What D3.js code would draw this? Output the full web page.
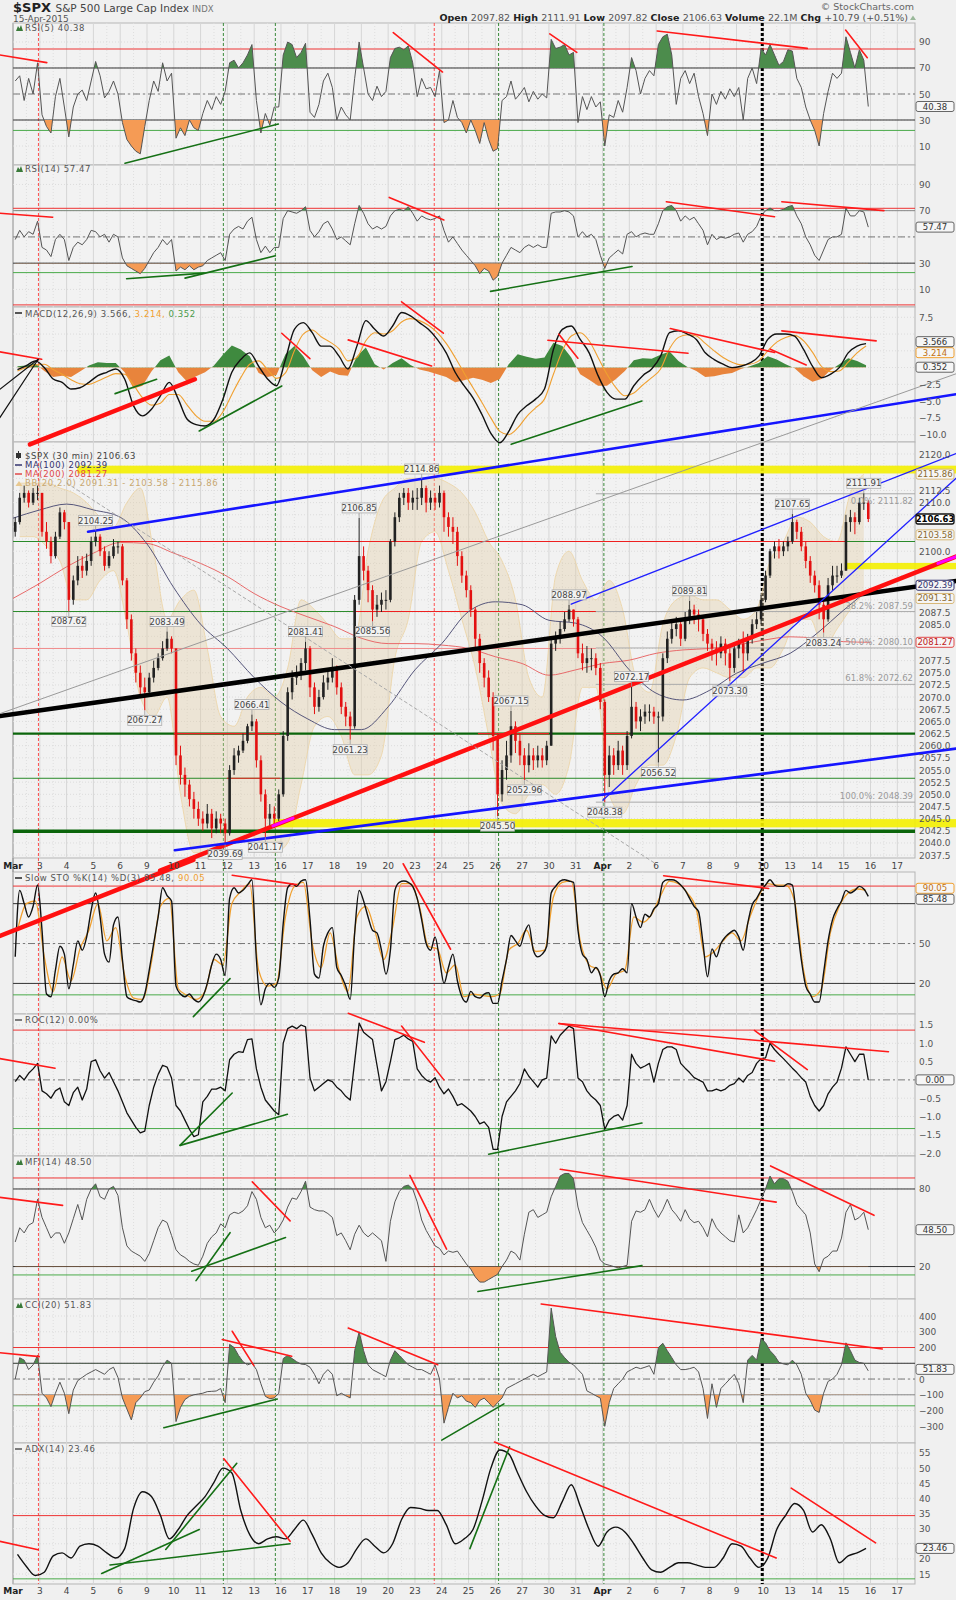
<!DOCTYPE html>
<html><head><meta charset="utf-8">
<script src="https://cdn.jsdelivr.net/npm/d3@7"></script>
<style>body{margin:0;background:#f0f0f0;}svg{display:block;font-family:"DejaVu Sans",Verdana,sans-serif;}</style>
</head><body><svg id="c" width="956" height="1600"></svg>
<script>
// ---------------- DATA ----------------
const dayLabels = ["Mar","3","4","5","6","9","10","11","12","13","16","17","18","19","20","23","24","25","26","27","30","31","Apr","2","6","7","8","9","10","13","14","15","16","17"];
const priceOpen0 = 2104;
const priceC = [
2106,2111,2112,2110,2112,2112, 2104,2102,2099,2103,2108,2106, 2090,2094,2097,2096,2098,2102, 2103,2100,2097,2099,2101,2101,
2094,2086,2079,2075,2072,2071, 2074,2076,2078,2080,2082,2080, 2058,2054,2052,2049,2047,2045, 2044,2046,2043,2045,2044,2042,
2055,2058,2059,2061,2064,2065, 2057,2050,2045,2046,2045,2050, 2062,2071,2074,2075,2077,2080, 2072,2068,2070,2073,2074,2076,
2072,2068,2066,2064,2090,2099, 2096,2092,2088,2089,2090,2090, 2102,2107,2111,2112,2110,2111, 2111,2113,2110,2111,2110,2112,
2107,2105,2104,2099,2095,2092, 2088,2082,2077,2074,2070,2062, 2050,2055,2058,2064,2061,2058, 2056,2058,2057,2058,2057,2060,
2081,2082,2084,2086,2088,2086, 2079,2077,2078,2078,2076,2069, 2054,2058,2056,2059,2056,2062, 2068,2065,2066,2067,2067,2066,
2066,2078,2082,2084,2085,2082, 2086,2088,2087,2086,2083,2081, 2080,2079,2081,2079,2076,2080, 2081,2079,2082,2085,2086,2090,
2095,2100,2101,2100,2101,2102, 2106,2104,2101,2098,2095,2093, 2089,2086,2093,2095,2095,2096, 2106,2107,2106,2110,2110,2106.63];
const priceH = [
2107,2112,2113.5,2112.5,2113,2113.5, 2112,2106,2103,2104,2109,2108.5, 2106,2095,2099,2099,2099.5,2103, 2104.25,2103.5,2101,2100,2102.5,2102,
2101.5,2094.5,2087,2080,2076.5,2074, 2075,2077.5,2079,2081.5,2083.49,2082.5, 2080,2060,2055.5,2053,2050.5,2048.5, 2046.5,2048,2047,2046.5,2046,2045,
2056,2059.5,2060,2062.5,2064.5,2066.41, 2065.5,2058,2051,2048,2047.5,2051, 2063,2072,2075.5,2076.5,2078,2081.41, 2080.5,2073,2071.5,2074.5,2075.5,2078,
2076.5,2073,2069,2067,2091,2106.85, 2101,2097,2093,2091,2091.5,2092, 2102.5,2108,2112,2113,2113,2112.5, 2113,2114.86,2113.5,2112.5,2112,2113.5,
2112.5,2108,2107,2105,2100,2096, 2093,2088.5,2083,2078,2075.5,2071, 2062.5,2057,2061,2067.15,2065,2062.5, 2059.5,2060.5,2059.5,2060,2059.5,2061,
2082,2083.5,2085.5,2087.5,2088.97,2088, 2086.5,2081,2080.5,2080,2079,2077, 2069.5,2060,2059.5,2061,2060,2063, 2072.17,2069,2067.5,2068.5,2068.5,2068,
2067,2079,2083.5,2085.5,2086.5,2085.5, 2087.5,2089.81,2089,2088,2086.5,2084, 2082,2081.5,2082.5,2082,2080,2081, 2082,2083.5,2083,2086,2087.5,2091,
2096,2100.5,2102,2102.5,2102,2103, 2107.65,2106.5,2105,2102,2099,2096, 2094,2090,2094.5,2097,2097,2097.5, 2107.5,2108.5,2108,2111,2111.91,2110.5];
const priceL = [
2103,2105.5,2110,2109,2109.5,2110.5, 2103,2100.5,2097.5,2098.5,2102.5,2104.5, 2087.62,2089,2093,2094.5,2095,2097, 2101,2099,2096,2096.5,2098.5,2099.5,
2093,2084,2077.5,2073,2070.5,2067.27, 2070.5,2073,2075.5,2077.5,2079.5,2079, 2056,2052,2049.5,2047.5,2045,2043.5, 2042.5,2043,2041,2042,2042,2039.69,
2041.5,2054,2056.5,2058.5,2060.5,2063, 2055.5,2048.5,2041.17,2043.5,2043,2044.5, 2049.5,2061,2069.5,2072.5,2073.5,2075.5, 2070,2066.5,2067,2069.5,2071.5,2073,
2070.5,2066.5,2064,2061.23,2063.5,2089, 2094,2089.5,2085.56,2086.5,2087.5,2088, 2089.5,2101,2106,2109.5,2108.5,2108.5, 2108.5,2109.5,2108,2108.5,2108.5,2109,
2104,2103,2101.5,2097,2093.5,2090.5, 2086.5,2080,2075,2072,2069,2059, 2045.5,2048.5,2053,2056.5,2058.5,2056, 2052.96,2054.5,2055,2055.5,2055.5,2056,
2060,2079.5,2081,2083.5,2085.5,2084.5, 2078,2075.5,2075,2075.5,2074.5,2067.5, 2048.38,2051.5,2054,2055,2054,2055, 2061.5,2063.5,2063,2064.5,2065,2064.5,
2056.52,2065,2077,2081,2082.5,2080.5, 2081.5,2085,2085,2083.5,2081.5,2079.5, 2077.5,2076.5,2078,2076.5,2073.3,2075, 2078,2075,2077.5,2081,2084,2085,
2089.5,2094.5,2098.5,2098.5,2099,2100, 2101.5,2102.5,2100,2096.5,2093.5,2091.5, 2086,2083.24,2085.5,2092,2093.5,2094.5, 2096,2104,2103.5,2105.5,2108.5,2106];
// moving averages, one value per day boundary (0..32)
const ma100 = [2106.8,2108.5,2109.7,2108.5,2107,2101.5,2092.5,2085,2080,2074,2069,2065.5,2063.3,2063.3,2068,2075.6,2081,2087.6,2089.6,2089,2085.8,2085.2,2082.4,2075.6,2070.8,2069.4,2071.4,2074.9,2077,2079,2083.1,2087.9,2092.39];
const ma200 = [2090.3,2093.4,2096.8,2099.6,2101.8,2101.6,2099.6,2097.5,2094.8,2091.3,2088.6,2086.5,2084.5,2082.1,2081,2081,2080.7,2080,2078.3,2076.9,2074.5,2075.6,2076.9,2077.6,2079,2079.7,2080,2080.7,2081.7,2082.4,2082.1,2081.4,2081.27];
// Bollinger bands, two values per day
const bbUpper = [2114,2114, 2114,2113, 2112,2110, 2107,2105, 2110,2113, 2100,2086, 2090,2092, 2080,2066, 2064,2070, 2072,2070, 2076,2090, 2088,2085, 2082,2082, 2100,2110, 2113,2115, 2115,2115,
2114,2112, 2108,2102, 2098,2090, 2074,2070, 2095,2100, 2094,2090, 2094,2088, 2074,2071, 2085,2090, 2091,2090, 2090,2088, 2086,2088, 2098,2102, 2107,2106, 2103,2102, 2112,2115.86];
const bbLower = [2103,2103, 2101,2098, 2090,2090, 2094,2096, 2085,2070, 2066,2070, 2050,2038, 2038,2040, 2040,2042, 2040,2038, 2040,2052, 2064,2066, 2062,2054, 2054,2058, 2078,2086, 2102,2104,
2096,2086, 2076,2062, 2048,2046, 2050,2052, 2050,2056, 2072,2072, 2050,2046, 2052,2056, 2056,2062, 2074,2076, 2075,2074, 2074,2076, 2076,2080, 2086,2086, 2080,2084, 2088,2091.31];
// RSI(5), 6 per day
const rsi5 = [
60,64,45,62,50,74, 34,25,20,48,62,40, 17,40,50,53,45,60, 75,64,47,52,60,50, 28,15,10,6,4,25, 45,60,52,74,60,66, 16,24,18,30,24,22, 35,45,38,48,42,52,
74,76,70,74,80,88, 45,20,35,26,40,40, 80,90,88,78,82,89, 36,32,42,60,66,55, 30,40,34,30,62,90, 70,50,45,56,48,52, 78,85,86,84,87,74, 48,62,54,55,48,68,
28,30,45,32,28,20, 30,22,12,28,15,6, 8,45,48,60,46,50, 55,44,52,46,50,47, 92,85,86,88,80,82, 28,48,38,48,40,44, 10,34,32,45,36,55, 78,68,50,62,68,64,
88,94,96,80,42,62, 68,58,66,48,35,18, 50,42,52,46,54,48, 55,30,62,70,58,85, 80,88,80,72,75,84, 83,62,55,40,30,22, 10,35,52,66,62,66, 94,82,70,84,76,40.38];
// RSI(14), 6 per day
const rsi14 = [
48,55,50,54,52,62, 42,40,35,48,52,48, 32,42,46,44,48,55, 54,50,52,46,52,50, 34,28,26,24,22,26, 32,38,42,48,44,48, 24,27,25,28,25,27, 28,32,34,36,38,32,
52,56,58,56,62,65, 48,38,43,38,42,42, 64,70,69,68,70,73, 55,50,54,60,62,56, 48,50,47,44,60,74, 68,60,56,58,56,58, 66,70,71,70,73,68, 62,66,64,63,64,66,
55,46,50,45,40,36, 32,28,22,26,24,17, 20,30,36,42,40,38, 42,44,42,44,42,42, 68,69,69,70,69,66, 50,54,50,52,48,36, 26,34,37,40,37,52, 54,50,52,53,52,52,
60,70,73,74,70,62, 66,63,65,60,55,44, 52,48,50,49,50,52, 53,46,52,54,58,66, 70,72,70,70,71,73, 74,66,60,50,44,36, 32,40,48,50,50,52, 72,66,66,70,69,57.47];
// MACD(12,26,9), 3 per day
const macdLine = [
-0.3,0.3,1.0, 0.0,-1.7,-2.2, -3.2,-3.0,-2.2, -1.2,-0.7,-0.2, -1.7,-5.7,-7.2, -6.2,-4.2,-2.2, -4.7,-7.7,-8.5, -8.7,-7.7,-4.7,
-0.7,1.2,2.2, 0.2,-1.7,-2.7, 1.2,5.7,6.7, 5.2,3.2,3.2, 1.7,-0.2,3.2, 7.0,5.7,4.7, 6.2,8.2,7.7, 6.7,5.7,4.2,
2.2,-0.7,-2.7, -4.5,-7.0,-9.8, -11.2,-9.5,-7.0, -5.7,-4.7,-3.2, 2.7,5.7,6.2, 4.2,2.2,-1.2, -3.7,-4.7,-4.7, -2.7,-1.2,-0.2,
1.7,5.2,5.5, 5.0,4.2,2.2, 1.2,0.5,0.0, 0.2,0.7,1.7, 4.2,5.0,5.0, 4.7,2.7,0.2, -1.5,-1.0,0.0, 2.2,3.2,3.566];
const macdSignal = [
-0.5,0.0,0.4, 0.5,-0.3,-1.0, -1.8,-2.4,-2.5, -2.0,-1.4,-0.9, -1.0,-2.6,-4.5, -5.6,-5.3,-4.0, -4.0,-5.6,-7.2, -8.0,-8.0,-6.6,
-4.0,-1.5,0.5, 1.0,-0.3,-1.6, -0.8,2.5,5.0, 5.6,4.6,3.8, 2.8,1.0,1.5, 4.0,5.2,5.0, 5.5,6.8,7.3, 7.0,6.3,5.2,
3.6,1.5,-0.8, -3.0,-5.2,-7.5, -9.5,-10.0,-9.0, -7.3,-6.0,-4.7, -1.0,2.5,4.7, 5.2,4.0,1.5, -1.0,-3.0,-4.2, -3.8,-2.6,-1.5,
-0.2,2.8,4.5, 4.9,4.7,3.6, 2.5,1.5,0.8, 0.4,0.5,1.0, 2.5,3.8,4.5, 4.8,4.0,2.3, 0.2,-0.6,-0.5, 0.8,2.2,3.214];
const macdHist = [
0.2,0.3,0.6, -0.5,-1.4,-1.2, -1.4,-0.6,0.3, 0.8,0.7,0.7, -0.7,-3.1,-2.7, -0.6,1.1,1.8, -0.7,-2.1,-1.3, -0.7,0.3,1.9,
3.3,2.7,1.7, -0.8,-1.4,-1.1, 2.0,3.2,1.7, -0.4,-1.4,-0.6, -1.1,-1.2,1.7, 3.0,0.5,-0.3, 0.7,1.4,0.4, -0.3,-0.6,-1.0,
-1.4,-2.2,-1.9, -1.5,-1.8,-2.3, -1.7,0.5,2.0, 1.6,1.3,1.5, 3.7,3.2,1.5, -1.0,-1.8,-2.7, -2.7,-1.7,-0.5, 1.1,1.4,1.3,
1.9,2.4,1.0, 0.1,-0.5,-1.4, -1.3,-1.0,-0.8, -0.2,0.2,0.7, 1.7,1.2,0.5, -0.1,-1.3,-2.1, -1.7,-0.4,0.5, 1.4,1.0,0.352];
// Slow Stochastic %K (6 per day) and %D (3 per day)
const stoK = [
40,90,80,70,78,94, 60,12,10,30,48,42, 16,34,52,45,55,75, 88,70,42,36,64,70, 38,10,8,7,6,12, 30,50,70,92,86,82, 18,12,10,12,8,6, 10,20,34,42,38,26,
84,92,88,90,94,98, 38,4,16,20,17,24, 65,92,95,93,97,98, 68,27,24,48,58,62, 32,26,18,8,58,90, 82,70,60,58,45,27, 45,90,96,97,96,93, 84,68,50,45,55,38,
20,32,42,22,10,6, 14,10,9,12,13,5, 5,22,38,56,52,48, 58,64,45,40,42,48, 88,93,97,98,97,96, 60,42,38,28,32,26, 10,22,27,28,31,28, 80,70,62,72,70,76,
80,96,98,98,97,94, 90,84,78,74,50,25, 46,40,50,55,58,60, 55,45,65,79,84,90, 94,98,94,93,93,95, 94,66,38,18,12,6, 6,28,52,68,76,82, 90,88,90,93,91,85.48];
const stoD = [
60,80,82, 40,14,40, 22,46,60, 80,52,62, 26,9,8, 36,78,84, 16,11,8, 14,38,34, 80,89,95, 30,18,20, 70,93,96, 50,32,58,
30,14,70, 78,60,38, 62,95,95, 78,48,46, 28,34,10, 12,11,10, 12,45,50, 60,44,45, 85,96,97, 52,34,30, 16,27,30, 70,66,72,
86,97,95, 88,76,40, 44,52,58, 52,70,86, 95,94,94, 82,30,10, 16,58,78, 88,91,90.05];
// ROC(12), 6 per day
const roc = [
-0.05,0.12,0.0,0.18,0.3,0.45, -0.3,-0.38,-0.5,-0.3,-0.22,-0.6, -0.7,-0.35,-0.2,-0.55,-0.25,0.5, 0.55,0.25,0.05,0.2,-0.05,-0.3,
-0.6,-0.9,-1.1,-1.3,-1.45,-1.4, -0.7,-0.2,0.15,0.4,0.35,0.05, -0.7,-0.85,-1.1,-1.35,-1.55,-1.5, -0.6,-0.45,-0.25,-0.25,-0.2,-0.3,
0.55,0.7,0.77,0.75,1.1,1.12, 0.3,-0.2,-0.55,-0.7,-0.85,-0.95, 1.0,1.4,1.47,1.4,1.5,1.45, 0.05,-0.3,-0.2,-0.1,0.0,-0.05,
-0.2,-0.3,-0.45,-0.55,0.5,1.55, 1.3,1.2,1.1,0.4,-0.3,-0.05, 0.5,1.1,1.15,1.22,1.12,1.05, 0.3,0.12,0.0,-0.06,0.06,-0.2,
-0.38,-0.25,-0.45,-0.7,-0.65,-0.75, -0.85,-1.0,-1.2,-1.15,-1.3,-1.9, -1.9,-1.0,-0.6,-0.45,-0.3,-0.1, 0.3,0.1,-0.05,-0.2,0.0,0.05,
1.2,1.0,1.22,1.35,1.47,1.4, 0.05,-0.05,-0.3,-0.45,-0.55,-0.7, -1.35,-1.1,-1.0,-0.95,-1.1,-0.7, 0.7,0.45,0.32,0.38,0.45,-0.06,
0.45,0.83,0.9,0.9,0.83,0.45, 0.32,0.2,0.06,0.0,-0.06,-0.3, -0.3,-0.25,-0.3,-0.25,-0.15,-0.1, 0.05,-0.06,0.12,0.2,0.45,0.58,
0.6,1.0,0.83,0.7,0.58,0.45, 0.32,0.2,0.06,-0.06,-0.45,-0.7, -0.85,-0.7,-0.38,-0.2,-0.06,0.32, 0.9,0.7,0.5,0.7,0.7,0.0];
// MFI(14), 6 per day
const mfi = [
39,50,46,52,54,72, 58,50,42,46,46,38, 46,57,68,56,72,80, 84,74,72,80,82,75, 50,36,32,30,28,24, 30,40,50,56,54,44, 33,29,27,24,22,21, 28,38,43,46,53,50,
60,62,61,63,67,78, 72,58,50,52,46,50, 56,66,73,72,78,86, 66,64,63,63,61,58, 44,46,40,33,45,52, 46,43,46,43,40,24, 55,70,78,82,83,80, 70,56,48,42,36,34,
29,32,31,32,27,22, 18,12,8,8,10,12, 14,20,25,32,30,25, 45,62,64,58,60,62, 74,82,90,92,92,88, 66,54,48,42,35,25, 22,21,20,19,20,21, 55,63,62,64,72,64,
58,64,72,64,60,55, 64,57,54,55,50,43, 57,50,46,43,40,39, 60,46,50,57,64,72, 80,90,84,88,88,86, 78,68,64,60,46,22, 16,26,28,32,32,42, 62,68,56,58,62,48.5];
// CCI(20), 6 per day
const cci = [
0,135,120,60,90,150, -90,-120,-175,-90,-20,-90, -220,-70,-10,10,30,45, 60,45,30,60,75,10, -120,-190,-260,-150,-120,-80, -70,-20,20,80,120,100,
-270,-180,-130,-110,-100,-95, -90,-80,-78,-76,-60,-150, 220,200,150,110,90,100, 60,-30,-110,-125,-120,-90, 130,150,130,110,95,92, 75,30,-30,30,60,30,
-106,-90,-106,-120,180,300, 180,90,60,45,30,15, 120,180,150,120,90,75, 60,60,45,30,90,0, -280,-180,-90,-120,-106,-140, -150,-180,-136,-121,-150,-180,
-150,-120,-60,-45,-30,-15, 0,15,30,15,30,45, 450,270,170,136,106,90, 60,30,-75,-90,-106,-121, -300,-150,-60,-30,0,45, 60,75,66,75,85,30,
200,227,180,136,90,60, 60,66,75,45,-60,-250, -30,-180,-60,-30,0,30, -30,-150,120,150,120,257, 230,180,150,106,96,90, 120,90,30,-90,-136,-197,
-212,-90,-15,0,30,90, 230,180,120,105,100,51.83];
// ADX(14), 3 per day
const adx = [
21.5,17.5,14.5, 15.6,21,22, 20.3,24.2,25, 24.2,22,20.3, 23.4,36.7,42.2, 40.6,34.4,26.6, 29.7,34.4,37.5, 40.6,45.3,50,
48.4,36,28, 25,26.6,27.3, 26.6,29.7,32.8, 28,22,18.7, 17.2,18.7,23.4, 26.6,24.2,22, 25,33,37, 36.7,36,36,
31.3,25,26.6, 29.7,39,50, 56,54.7,48.4, 42.2,37.5,34.4, 33.6,39,44.5, 37.5,29.7,24.2, 28.9,30.5,28.9, 25,20.3,16.4,
15.6,17.2,18.7, 18.7,18,17.2, 17.2,20.3,25, 24.2,20.3,17.2, 20.3,29.7,34.4, 38.3,36,28.9, 31.3,26.6,18.7, 21,22,23.46];
// tick labels
const ticksRSI = [90,70,50,30,10];
const ticksMACD = [7.5,5.0,2.5,0.0,-2.5,-5.0,-7.5,-10.0];
const ticksPrice = [2037.5,2040,2042.5,2045,2047.5,2050,2052.5,2055,2057.5,2060,2062.5,2065,2067.5,2070,2072.5,2075,2077.5,2080,2082.5,2085,2087.5,2090,2092.5,2095,2097.5,2100,2102.5,2105,2107.5,2110,2112.5,2115,2117.5,2120];
const ticksSTO = [80,50,20];
const ticksROC = [1.5,1.0,0.5,-0.5,-1.0,-1.5,-2.0];
const ticksMFI = [80,20];
const ticksCCI = [400,300,200,100,0,-100,-200,-300];
const ticksADX = [55,50,45,40,35,30,25,20,15];
// labelled highs / lows: [bar index, value, text, above?]
const priceMarks = [[18,2104.25,"2104.25",1],[12,2087.62,"2087.62",0],[34,2083.49,"2083.49",1],[29,2067.27,"2067.27",0],[53,2066.41,"2066.41",1],
[47,2039.69,"2039.69",0],[56,2041.17,"2041.17",0],[65,2081.41,"2081.41",1],[75,2061.23,"2061.23",0],[77,2106.85,"2106.85",1],[80,2085.56,"2085.56",0],
[91,2114.86,"2114.86",1],[108,2045.50,"2045.50",0],[111,2067.15,"2067.15",1],[114,2052.96,"2052.96",0],[124,2088.97,"2088.97",1],[132,2048.38,"2048.38",0],
[138,2072.17,"2072.17",1],[144,2056.52,"2056.52",0],[151,2089.81,"2089.81",1],[160,2073.30,"2073.30",0],[174,2107.65,"2107.65",1],[181,2083.24,"2083.24",0],[190,2111.91,"2111.91",1]];
const fibLevels = [["0.0%",2111.82],["38.2%",2087.59],["50.0%",2080.10],["61.8%",2072.62],["100.0%",2048.39]];
const fibStart = 21.75;
const yellowBands = [[2116.0,2117.6,2.4],[2043.2,2044.9,9.7],[2096.3,2097.6,31.04]];
// horizontal level lines on price: [value, fromDay, toDay, kind]
const priceLevels = [[2042.4,0,33.66,"gThick"],[2062.5,0,33.66,"gMed"],[2053.3,0,33.66,"gThin"],[2102.0,0,33.66,"gThin"],[2087.6,0,21.75,"gThin"],[2080.0,0,21.75,"pink"],
[2102.0,4.0,31.05,"rThin"],[2087.6,12.7,21.75,"rThin"],[2062.5,6.0,9.95,"rThin"],[2062.5,17.35,20.0,"rThin"],[2062.5,22.05,23.0,"rThin"],[2053.3,7.98,9.96,"rThin"]];
// event verticals [day, kind]
const events = [[0.95,"redDash"],[7.85,"greenDash"],[9.79,"greenDash"],[15.72,"redDash"],[18.12,"greenDash"],[22.05,"greenDash"],[27.96,"blackDot"]];
// drawn trendlines [d1,v1,d2,v2,kind]
const annPrice = [[-0.485,2066.1,35.19,2093.9,"blackThick"],[5.49,2034.3,35.19,2098.9,"redThick"],[2.8,2104.0,35.19,2132.3,"blue"],[6.04,2038.5,35.19,2059.4,"blue"],
[20.83,2089.1,35.19,2120.1,"blueThin"],[22.01,2048.8,35.19,2115,"blueThin"],[-0.485,2066.6,35.19,2136.5,"gray"],[2.01,2114,23.96,2035.8,"grayDash"],
[9.7,2043.5,10.45,2045.1,"magenta"],[34.515,2097.5,35.19,2098.9,"magenta"]];
const annRSI5 = [[-0.49,80,1.26,74.1,"red"],[4.18,-3.3,9.9,26.9,"green"],[14.19,97.2,16.03,66.9,"red"],[20.03,96.2,21.04,82,"red"],[24.04,98.5,29.64,85.1,"red"],[31.07,99.2,31.88,77.9,"red"]];
const annRSI14 = [[-0.49,68,1.48,65,"red"],[4.24,18.1,7.13,22.4,"green"],[6.42,18.6,9.79,35.6,"green"],[14.04,80.1,16.08,62.9,"red"],[17.82,8.5,23.1,27.5,"green"],[24.38,76.8,28.42,65.4,"red"],[28.69,76.8,32.5,70,"red"]];
const annMACD = [[-0.49,2.34,1.07,1.24,"red"],[-0.49,-7.46,0.94,1.24,"black"],[-0.49,-3.23,0.94,1.24,"black"],[0.63,-11.44,6.79,-1.74,"redThick"],[3.81,-3.88,5.36,-1.74,"green"],
[6.95,-9.45,10.03,-2.74,"green"],[10.03,5.12,11.08,1.34,"red"],[12.51,4.13,15.62,0.25,"red"],[14.5,9.8,16.06,5.12,"red"],[19.96,4.08,25.19,2.14,"red"],[20.37,4.98,21.08,1.39,"red"],
[18.59,-11.44,23.47,-4.98,"green"],[24.53,5.82,28.42,2.24,"red"],[28.26,2.74,29.6,0.4,"red"],[28.69,5.47,32.21,3.98,"red"]];
const annSTO = [[-0.49,55.7,6.73,112.9,"redThick"],[6.73,-5,8.1,23.6,"green"],[8.18,101.4,10.58,94.3,"red"],[14.56,110,16.33,45.7,"red"],[24.28,101,28.2,91.4,"red"]];
const annROC = [[-0.49,0.58,1.57,0.32,"red"],[6.23,-1.79,8.18,-0.36,"green"],[6.24,-1.79,10.24,-0.94,"green"],[12.51,1.82,15.35,1.03,"red"],[14.5,1.47,16.08,0,"red"],
[17.75,-2.03,23.47,-1.18,"green"],[20.37,1.54,28.42,0.51,"red"],[20.37,1.54,32.67,0.77,"red"],[27.67,1.35,29.64,0.28,"red"]];
const annMFI = [[-0.49,73.5,1.85,67.3,"red"],[6.83,9.1,8.1,46.2,"green"],[6.67,16.4,10.17,42.5,"green"],[8.93,85.5,10.34,55.3,"red"],[14.81,90.5,16.18,33.5,"red"],
[17.35,0.7,23.47,20.7,"green"],[20.42,95.3,28.48,69.8,"red"],[28.27,97.8,32.13,59.6,"red"]];
const annCCI = [[-0.49,167,0.98,142,"red"],[5.63,-309,9.86,-127,"green"],[7.81,251,10.4,145,"red"],[8.18,303,8.99,85,"red"],[12.51,324,15.85,91,"red"],
[16.0,-388,18.32,-158,"green"],[19.71,476,32.44,191,"red"]];
const annADX = [[-0.49,25.8,0.94,23,"red"],[3.31,15.2,6.95,29.7,"green"],[3.62,18,10.34,25,"green"],[5.7,23.1,8.35,51.6,"green"],[7.87,53.1,10.34,25.8,"red"],
[17.05,23.4,18.53,57,"green"],[17.97,58.6,28.48,20.3,"red"],[29.04,43.4,32.19,25.3,"red"]];

// ---------------- LAYOUT / STYLE ----------------
const svg = d3.select("#c");
const defs = svg.append("defs");
const X = d3.scaleLinear().domain([0, 33.66]).range([13, 915]);
const L = 13, R = 915;
const p6 = i => Math.floor(i/6) + ((i%6)+0.5)/6;
const p3 = i => Math.floor(i/3) + ((i%3)+0.5)/3;
const p2 = i => Math.floor(i/2) + ((i%2)+0.5)/2;
const P = {
  rsi5:{t:23,b:165,dom:[-4.6,104.6]}, rsi14:{t:165,b:307,dom:[-3.4,104.8]}, macd:{t:307,b:442,dom:[-11.09,9.03]},
  price:{t:442,b:858,dom:[2036.9,2122.47]}, sto:{t:872,b:1014,dom:[-3.0,103.8]}, roc:{t:1014,b:1156,dom:[-2.08,1.80]},
  mfi:{t:1156,b:1299,dom:[-5.1,105.5]}, cci:{t:1299,b:1443,dom:[-406,508]}, adx:{t:1443,b:1584,dom:[11.7,58.3]}
};
Object.values(P).forEach(p => p.y = d3.scaleLinear().domain(p.dom).range([p.b, p.t]));
const ST = {
  red:{c:"#ff1a1a",w:1.6}, redThick:{c:"#ff1010",w:4.5}, green:{c:"#157015",w:1.6}, blue:{c:"#1515ff",w:2.6},
  blueThin:{c:"#2020ff",w:1.3}, black:{c:"#111",w:1.2}, blackThick:{c:"#000",w:4.5}, gray:{c:"#9a9a9a",w:1},
  grayDash:{c:"#aaa",w:1,d:"3,3"}, magenta:{c:"#ff00ff",w:3},
  gThick:{c:"#0b650b",w:3.5}, gMed:{c:"#0b650b",w:2.2}, gThin:{c:"#2a8a2a",w:1}, rThin:{c:"#ee2020",w:1.2}, pink:{c:"#f08a8a",w:1},
  refRed:{c:"#ee3333",w:1}, refBlack:{c:"#333",w:1}, refGreen:{c:"#4aaa4a",w:1}, dashdot:{c:"#777",w:1,d:"7,3,2,3"}, refGray:{c:"#888",w:1},
  redDash:{c:"#ff5050",w:1,d:"3,2"}, greenDash:{c:"#3c8a3c",w:1,d:"3,2"}, blackDot:{c:"#000",w:3,d:"3,2"}
};
function sty(sel, k){ const s = ST[k]; sel.attr("stroke", s.c).attr("stroke-width", s.w).attr("fill","none"); if (s.d) sel.attr("stroke-dasharray", s.d); return sel; }

const gBg = svg.append("g"), gGrid = svg.append("g"), gEv = svg.append("g"), gMain = svg.append("g"), gAnn = svg.append("g"), gTxt = svg.append("g");

Object.entries(P).forEach(([k,p]) => {
  gBg.append("rect").attr("x",L).attr("y",p.t).attr("width",R-L).attr("height",p.b-p.t).attr("fill","#f2f2f2").attr("stroke","#b5b5b5").attr("stroke-width",1);
  for (let d=0; d<=33; d++) {
    gGrid.append("line").attr("x1",X(d)).attr("x2",X(d)).attr("y1",p.t).attr("y2",p.b).attr("stroke","#d6d6d6").attr("stroke-width",1);
    if (d<33) gGrid.append("line").attr("x1",X(d+0.5)).attr("x2",X(d+0.5)).attr("y1",p.t).attr("y2",p.b).attr("stroke","#dedede").attr("stroke-dasharray","1,2");
  }
});
gBg.append("line").attr("x1",L).attr("x2",L).attr("y1",23).attr("y2",1584).attr("stroke","#999").attr("stroke-width",1.5);

function hgrid(p, ticks){ ticks.forEach(t => gGrid.append("line").attr("x1",L).attr("x2",R).attr("y1",p.y(t)).attr("y2",p.y(t)).attr("stroke","#dcdcdc").attr("stroke-dasharray","1,2")); }
// right-axis labels; ticks hidden behind a value box are left out
function axis(p, ticks, fmt, boxYs, gap){
  const g = gap || 10;
  ticks.forEach(t => {
    const yy = p.y(t);
    if ((boxYs||[]).some(b => Math.abs(b - yy) < g)) return;
    gTxt.append("text").attr("x",919).attr("y",yy+3.5).attr("font-size",9).attr("fill","#555").text(d3.format(fmt)(t));
  });
}
function refLines(p, list){ list.forEach(([v,k]) => sty(gMain.append("line").attr("x1",L).attr("x2",R).attr("y1",p.y(v)).attr("y2",p.y(v)), k)); }
function series(p, data, pos, color, w, curve){
  const ln = d3.line().x((d,i)=>X(pos(i))).y(d=>p.y(d));
  if (curve) ln.curve(curve);
  gMain.append("path").datum(data).attr("d", ln).attr("fill","none").attr("stroke",color).attr("stroke-width",w).attr("stroke-linejoin","round");
}
let clipN = 0;
function threshFill(p, data, pos, thr, above, color){
  const id = "clp" + (clipN++);
  const yt = p.y(thr);
  defs.append("clipPath").attr("id",id).append("rect").attr("x",L).attr("width",R-L)
    .attr("y", above ? p.t : yt).attr("height", above ? yt-p.t : p.b-yt);
  gMain.append("path").datum(data).attr("d", d3.area().x((d,i)=>X(pos(i))).y0(yt).y1(d=>p.y(d)))
    .attr("fill",color).attr("clip-path",`url(#${id})`);
}
function ann(p, list){ list.forEach(([d1,v1,d2,v2,k]) => sty(gAnn.append("line").attr("x1",X(d1)).attr("y1",p.y(v1)).attr("x2",X(d2)).attr("y2",p.y(v2)).attr("stroke-linecap","round"), k)); }
function valBox(y, text, stroke, color, bold, fill){
  gTxt.append("rect").attr("x",916).attr("y",y-5).attr("width",38).attr("height",10).attr("rx",2).attr("fill",fill||"#f6f6f6").attr("stroke",stroke).attr("stroke-width",bold?1.3:1);
  gTxt.append("text").attr("x",935).attr("y",y+3).attr("text-anchor","middle").attr("font-size",8.5).attr("font-weight",bold?"bold":"normal").attr("fill",color).text(text);
}
function title(p, parts, icon, yy){
  const y = yy || p.t + 9;
  if (icon === "mtn") gTxt.append("path").attr("d",`M16,${y} L18,${y-5} L19.5,${y-2.5} L21,${y-6} L23,${y} Z`).attr("fill","#3a7a3a");
  else if (icon === "dash") gTxt.append("line").attr("x1",15).attr("x2",22).attr("y1",y-3).attr("y2",y-3).attr("stroke",parts[0][1]).attr("stroke-width",1.5);
  else if (icon === "candle") { gTxt.append("rect").attr("x",16).attr("y",y-6).attr("width",5).attr("height",5).attr("fill","#333"); gTxt.append("line").attr("x1",18.5).attr("x2",18.5).attr("y1",y-8).attr("y2",y).attr("stroke","#333"); }
  else if (icon === "tri") gTxt.append("path").attr("d",`M15.5,${y} L19,${y-5} L22.5,${y} Z`).attr("fill","#e8c890");
  const t = gTxt.append("text").attr("x",25).attr("y",y).attr("font-size",8.5).attr("letter-spacing",0.6);
  parts.forEach(([s,c]) => t.append("tspan").attr("fill",c).text(s));
}

// ---------------- RSI(5) ----------------
(function(){ const p = P.rsi5;
  hgrid(p, ticksRSI); axis(p, ticksRSI, "d", [p.y(40.38)]);
  refLines(p, [[84.6,"refRed"],[70,"refBlack"],[50,"dashdot"],[30,"refBlack"],[22,"refGreen"]]);
  threshFill(p, rsi5, p6, 70, true, "#4c8c4c"); threshFill(p, rsi5, p6, 30, false, "#f59b55");
  series(p, rsi5, p6, "#555", 1);
  ann(p, annRSI5);
  title(p, [["RSI(5) 40.38","#555"]], "mtn", 31);
  valBox(p.y(40.38), "40.38", "#666", "#333");
})();
// ---------------- RSI(14) ----------------
(function(){ const p = P.rsi14;
  hgrid(p, ticksRSI); axis(p, ticksRSI, "d", [p.y(57.47)]);
  refLines(p, [[71.8,"refRed"],[70,"refGray"],[50,"dashdot"],[30,"refBlack"],[22.8,"refGreen"],[-1.8,"refRed"]]);
  threshFill(p, rsi14, p6, 70, true, "#4c8c4c"); threshFill(p, rsi14, p6, 30, false, "#f59b55");
  series(p, rsi14, p6, "#555", 1);
  ann(p, annRSI14);
  title(p, [["RSI(14) 57.47","#555"]], "mtn", 172);
  valBox(p.y(57.47), "57.47", "#666", "#333");
})();
// ---------------- MACD ----------------
(function(){ const p = P.macd;
  const bMacd = p.y(3.566) - 2, bSig = p.y(3.566) + 9, bHist = p.y(0.352) + 2;
  hgrid(p, ticksMACD); axis(p, ticksMACD, ".1f", [bMacd, bSig, bHist]);
  threshFill(p, macdHist, p3, 0, true, "#3f8a3f"); threshFill(p, macdHist, p3, 0, false, "#e8843c");
  series(p, macdSignal, p3, "#f0a030", 1.1, d3.curveMonotoneX);
  series(p, macdLine, p3, "#111", 1.4, d3.curveMonotoneX);
  ann(p, annMACD);
  const y = p.t + 9;
  gTxt.append("line").attr("x1",15).attr("x2",22).attr("y1",y-3).attr("y2",y-3).attr("stroke","#222").attr("stroke-width",1.5);
  const t = gTxt.append("text").attr("x",25).attr("y",y+1).attr("font-size",8.5).attr("letter-spacing",0.6);
  t.append("tspan").attr("fill","#555").text("MACD(12,26,9) 3.566, ");
  t.append("tspan").attr("fill","#f0a030").text("3.214, ");
  t.append("tspan").attr("fill","#4a9a4a").text("0.352");
  valBox(bSig, "3.214", "#f0a030", "#c07010");
  valBox(bMacd, "3.566", "#666", "#333");
  valBox(bHist, "0.352", "#666", "#333");
})();
// ---------------- PRICE ----------------
(function(){ const p = P.price;
  const boxes = [[p.y(2115.86),"2115.86","#d8b878","#8a6a30"],[p.y(2106.63),"2106.63","#111","#000",true,"#fff"],[p.y(2103.58)+1,"2103.58","#d8b878","#8a6a30"],
                 [p.y(2092.39)-3,"2092.39","#33336e","#33336e"],[p.y(2091.31)+5,"2091.31","#d8b878","#8a6a30"],[p.y(2081.27),"2081.27","#e04848","#c02020"]];
  hgrid(p, ticksPrice); axis(p, ticksPrice, ".1f", boxes.map(b=>b[0]).concat([p.y(2117.0), p.y(2097.0)]));
  gMain.append("path").datum(bbUpper).attr("d", d3.area().curve(d3.curveMonotoneX).x((d,i)=>X(p2(i))).y0((d,i)=>p.y(bbLower[i])).y1(d=>p.y(d))).attr("fill","rgba(226,204,160,0.35)");
  series(p, bbUpper, p2, "#ecd3a2", 0.8, d3.curveMonotoneX);
  series(p, bbLower, p2, "#ecd3a2", 0.8, d3.curveMonotoneX);
  yellowBands.forEach(([a,b,d0]) => gMain.append("rect").attr("x",X(d0)).attr("width",956-X(d0)).attr("y",p.y(b)).attr("height",p.y(a)-p.y(b)).attr("fill","#f4f000").attr("opacity",0.9));
  priceLevels.forEach(([v,d1,d2,k]) => sty(gMain.append("line").attr("x1",X(d1)).attr("x2",X(d2)).attr("y1",p.y(v)).attr("y2",p.y(v)), k));
  fibLevels.forEach(([lab,v],i) => {
    gMain.append("line").attr("x1",X(fibStart)).attr("x2",R).attr("y1",p.y(v)).attr("y2",p.y(v)).attr("stroke","#aaa").attr("stroke-width",1);
    gTxt.append("text").attr("x",913).attr("y",i===0 ? p.y(v)+10 : p.y(v)-3).attr("text-anchor","end").attr("font-size",8.5).attr("fill","#9a9a9a").text(`${lab}: ${v.toFixed(2)}`);
  });
  series(p, ma200, d=>d, "#e86a6a", 1, d3.curveMonotoneX);
  series(p, ma100, d=>d, "#55557a", 1, d3.curveMonotoneX);
  const cw = 2.6;
  priceC.forEach((c,i) => {
    const o = i === 0 ? priceOpen0 : priceC[i-1];
    const col = c >= o ? "#222" : "#e31010";
    const xx = X(p6(i));
    gMain.append("line").attr("x1",xx).attr("x2",xx).attr("y1",p.y(Math.max(priceH[i],o,c))).attr("y2",p.y(Math.min(priceL[i],o,c))).attr("stroke",col).attr("stroke-width",1);
    gMain.append("rect").attr("x",xx-cw/2).attr("width",cw).attr("y",p.y(Math.max(o,c))).attr("height",Math.max(1,Math.abs(p.y(o)-p.y(c)))).attr("fill",col);
  });
  ann(p, annPrice);
  priceMarks.forEach(([bi,v,txt,up]) => {
    const xx = X(p6(bi)), yv = p.y(v);
    const by = up ? yv-15 : yv+5;
    gTxt.append("line").attr("x1",xx).attr("x2",xx).attr("y1",up?by+10:yv).attr("y2",up?yv:by).attr("stroke","#999").attr("stroke-width",0.8);
    gTxt.append("rect").attr("x",xx-17).attr("y",by).attr("width",34).attr("height",10).attr("fill","#f3f3f3").attr("stroke","#aaa").attr("stroke-width",0.8).attr("opacity",0.95);
    gTxt.append("text").attr("x",xx).attr("y",by+8).attr("text-anchor","middle").attr("font-size",8.5).attr("fill","#444").text(txt);
  });
  title(p, [["$SPX (30 min) 2106.63","#444"]], "candle", 459);
  title(p, [["MA(100) 2092.39","#33336e"]], "dash", 468);
  title(p, [["MA(200) 2081.27","#e04848"]], "dash", 477);
  title(p, [["BB(20,2.0) 2091.31 - 2103.58 - 2115.86","#c8a870"]], "tri", 486);
  boxes.forEach(b => valBox(...b));
})();
// ---------------- STO ----------------
(function(){ const p = P.sto;
  const bD = p.y(90.05) - 2, bK = p.y(90.05) + 9;
  hgrid(p, ticksSTO); axis(p, ticksSTO, "d", [bD, bK]);
  refLines(p, [[93.2,"refRed"],[80,"refBlack"],[50,"dashdot"],[20,"refBlack"],[11.4,"refGreen"]]);
  series(p, stoD, p3, "#f0a030", 1.3, d3.curveMonotoneX);
  series(p, stoK, p6, "#111", 1.4, d3.curveMonotoneX);
  ann(p, annSTO);
  const y = p.t + 9;
  gTxt.append("line").attr("x1",15).attr("x2",22).attr("y1",y-3).attr("y2",y-3).attr("stroke","#222").attr("stroke-width",1.5);
  const t = gTxt.append("text").attr("x",25).attr("y",y).attr("font-size",8.5).attr("letter-spacing",0.6);
  t.append("tspan").attr("fill","#555").text("Slow STO %K(14) %D(3) 85.48, ");
  t.append("tspan").attr("fill","#f0a030").text("90.05");
  valBox(bD, "90.05", "#f0a030", "#c07010");
  valBox(bK, "85.48", "#666", "#333");
})();
// ---------------- ROC ----------------
(function(){ const p = P.roc;
  hgrid(p, ticksROC); axis(p, ticksROC, ".1f", [p.y(0)]);
  refLines(p, [[1.36,"refRed"],[0,"dashdot"],[-1.33,"refGreen"]]);
  series(p, roc, p6, "#111", 1.3);
  ann(p, annROC);
  title(p, [["ROC(12) 0.00%","#555"]], "dash", p.t + 9);
  valBox(p.y(0), "0.00", "#666", "#333");
})();
// ---------------- MFI ----------------
(function(){ const p = P.mfi;
  hgrid(p, ticksMFI); axis(p, ticksMFI, "d", [p.y(48.5)]);
  refLines(p, [[88.5,"refRed"],[80,"refBlack"],[20,"refBlack"],[13.5,"refGreen"]]);
  threshFill(p, mfi, p6, 80, true, "#4c8c4c"); threshFill(p, mfi, p6, 20, false, "#f59b55");
  series(p, mfi, p6, "#555", 1);
  ann(p, annMFI);
  title(p, [["MFI(14) 48.50","#555"]], "mtn", p.t + 9);
  valBox(p.y(48.5), "48.50", "#666", "#333");
})();
// ---------------- CCI ----------------
(function(){ const p = P.cci;
  const bC = p.y(51.83) - 1.5;
  hgrid(p, ticksCCI); axis(p, ticksCCI, "d", [bC], 6.5);
  refLines(p, [[200,"refRed"],[100,"refBlack"],[0,"dashdot"],[-100,"refGray"],[-170,"refGreen"]]);
  threshFill(p, cci, p6, 100, true, "#4c8c4c"); threshFill(p, cci, p6, -100, false, "#f59b55");
  series(p, cci, p6, "#555", 1);
  ann(p, annCCI);
  title(p, [["CCI(20) 51.83","#555"]], "mtn", p.t + 9);
  valBox(bC, "51.83", "#666", "#333");
})();
// ---------------- ADX ----------------
(function(){ const p = P.adx;
  hgrid(p, ticksADX); axis(p, ticksADX, "d", [p.y(23.46)]);
  refLines(p, [[34.3,"refRed"],[13.4,"refGreen"]]);
  series(p, adx, p3, "#111", 1.4, d3.curveMonotoneX);
  ann(p, annADX);
  title(p, [["ADX(14) 23.46","#555"]], "dash", p.t + 9);
  valBox(p.y(23.46), "23.46", "#666", "#333");
})();

events.forEach(([d,k]) => sty(gEv.append("line").attr("x1",X(d)).attr("x2",X(d)).attr("y1",23).attr("y2",1584), k));

[868.5, 1594].forEach(yy => dayLabels.forEach((lab,i) => {
  gTxt.append("text").attr("x",X(i)).attr("y",yy).attr("text-anchor","middle").attr("font-size",9)
    .attr("font-weight",(lab==="Mar"||lab==="Apr")?"bold":"normal").attr("fill",(lab==="Mar"||lab==="Apr")?"#222":"#444").text(lab);
}));

const h1 = gTxt.append("text").attr("x",13).attr("y",12);
h1.append("tspan").attr("font-size",13).attr("font-weight","bold").attr("fill","#222").text("$SPX ");
h1.append("tspan").attr("font-size",10.5).attr("fill","#444").text("S&P 500 Large Cap Index ");
h1.append("tspan").attr("font-size",8.5).attr("fill","#777").text("INDX");
gTxt.append("text").attr("x",13).attr("y",21.5).attr("font-size",9).attr("fill","#555").text("15-Apr-2015");
gTxt.append("text").attr("x",914).attr("y",10).attr("text-anchor","end").attr("font-size",9.5).attr("fill","#666").text("© StockCharts.com");
const h2 = gTxt.append("text").attr("x",908).attr("y",21).attr("text-anchor","end").attr("font-size",9.5).attr("fill","#555");
[["Open ",1],["2097.82  ",0],["High ",1],["2111.91  ",0],["Low ",1],["2097.82  ",0],["Close ",1],["2106.63  ",0],["Volume ",1],["22.1M  ",0],["Chg ",1],["+10.79 (+0.51%)",0]]
  .forEach(([s,b]) => h2.append("tspan").attr("font-weight",b?"bold":"normal").attr("fill",b?"#222":"#555").text(s));
gTxt.append("path").attr("d","M910,20 L913,15.5 L916,20 Z").attr("fill","#9ab89a");
</script></body></html>
